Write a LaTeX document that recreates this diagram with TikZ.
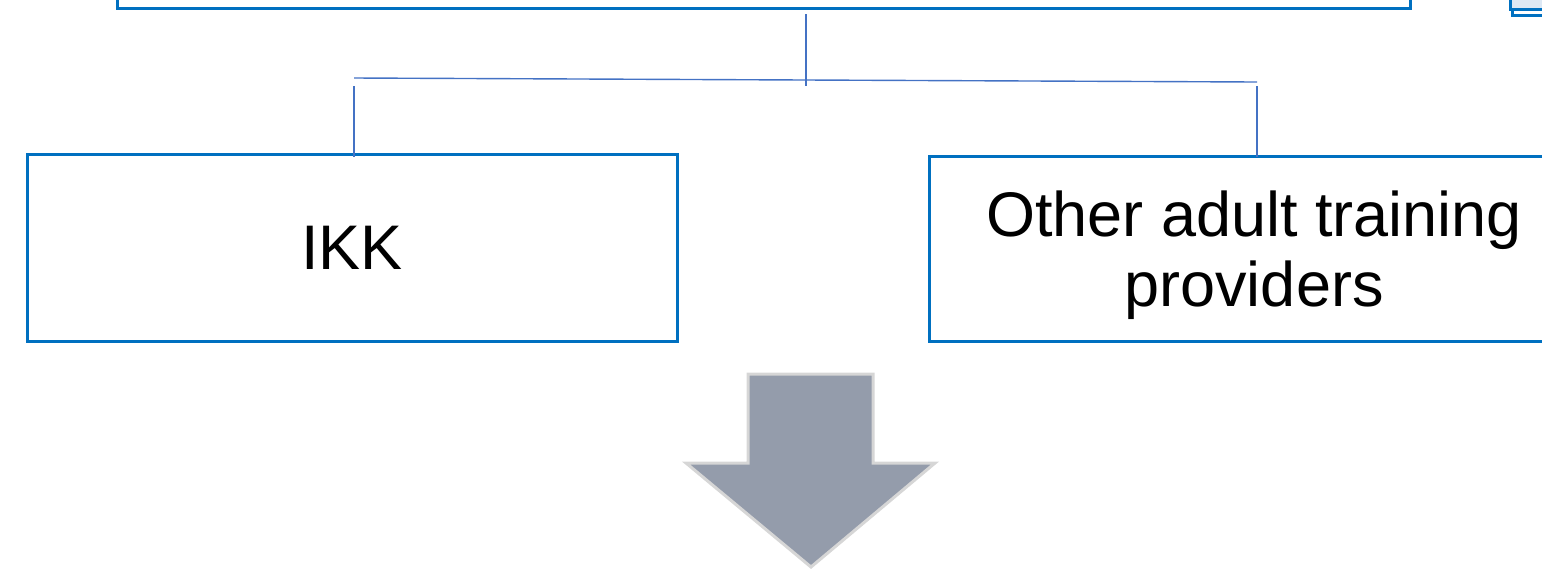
\documentclass[tikz,border=0pt]{standalone}
\usepackage{fontspec}
\setmainfont{Liberation Sans}
\definecolor{boxblue}{HTML}{0070C0}
\definecolor{linkblue}{HTML}{4472C4}
\definecolor{arrowfill}{HTML}{949CAB}
\definecolor{arrowedge}{HTML}{D6D6D6}
\definecolor{lightfill}{HTML}{DDE8F4}
\begin{document}
\begin{tikzpicture}[x=0.5pt,y=-0.5pt,
  orgbox/.style={draw=boxblue,line width=1.5pt,fill=white,minimum width=325pt,align=center,inner sep=0pt,
    font=\fontsize{31.5}{35}\selectfont},
  link/.style={draw=linkblue,line width=0.7pt}]
\useasboundingbox (0,0) rectangle (1542,569);
\clip (0,0) rectangle (1542,569);
% top box (mostly outside the view)
\node[draw=boxblue,line width=1.5pt,minimum width=646.5pt,minimum height=100pt,inner sep=0pt,anchor=south] (top) at (763.5,10) {};
% top right partial box
\draw[boxblue,line width=1.5pt] (1512,-20) rectangle (1570,15);
\node[draw=boxblue,line width=1.5pt,fill=lightfill,minimum width=40pt,minimum height=20pt,inner sep=0pt,anchor=south west] (tr) at (1509,11) {};
% child boxes
\node[orgbox,minimum height=93.5pt] (ikk) at (352,247.5) {IKK};
\node[orgbox,minimum height=92.5pt] (other) at (1254,248.5) {\rule{0pt}{30pt}Other adult training\\providers};
% connectors
\coordinate (c0) at (806,14);
\coordinate (c1) at (806,86);
\coordinate (hl) at (354,78);
\coordinate (hr) at (1257,82);
\coordinate (l0) at (354,86);
\coordinate (r0) at (1257,86);
\draw[link] (c0) -- (c1);
\draw[link] (hl) -- (hr);
\draw[link] (l0) -- (ikk.north -| l0) -- ++(0,4);
\draw[link] (r0) -- (other.north -| r0) -- ++(0,2);
% big arrow
\draw[fill=arrowfill,draw=arrowedge,line width=1.5pt]
  (748,374) -- (873,374) -- (873,463) -- (935,463) -- (811,567) -- (686,463) -- (748,463) -- cycle;
\end{tikzpicture}
\end{document}
